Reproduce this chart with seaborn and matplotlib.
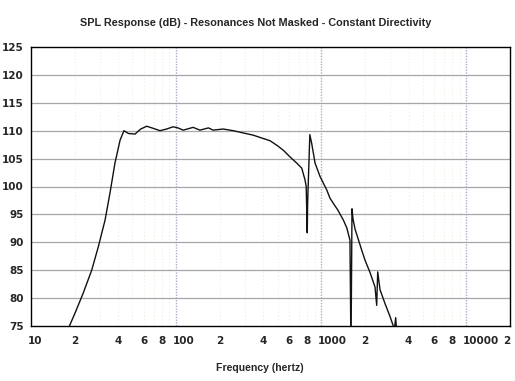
import matplotlib
matplotlib.use("Agg")
import matplotlib.pyplot as plt
from matplotlib.transforms import ScaledTranslation
import seaborn as sns
import pandas as pd

# frequency response (Hz, dB)
freq = [17.5, 18.4, 20.1, 22.9, 26.2, 29.1, 32.4, 35.0, 37.9, 41.1, 43.7, 46.9,
        52.1, 57.0, 62.7, 70.0, 77.4, 86.0, 95.2, 103, 112, 131, 146, 167, 180,
        211, 248, 290, 340, 399, 444, 500, 548, 610, 678, 734, 773, 788, 801,
        806, 835, 860, 907, 981, 1091, 1150, 1211, 1300, 1420, 1500, 1578, 1604,
        1630, 1656, 1709, 1901, 2004, 2169, 2348, 2412, 2451, 2543, 2754, 2980,
        3140, 3200, 3260, 3300, 3400]
spl = [74.0, 75.0, 77.3, 80.9, 85.0, 89.2, 94.0, 98.8, 104.2, 108.3, 110.0, 109.5,
       109.4, 110.3, 110.8, 110.4, 110.0, 110.3, 110.7, 110.5, 110.1, 110.6, 110.1,
       110.5, 110.1, 110.3, 110.0, 109.6, 109.2, 108.6, 108.2, 107.3, 106.5, 105.3,
       104.2, 103.3, 101.2, 100.0, 91.7, 97.0, 109.3, 107.7, 104.2, 101.8, 99.4,
       97.9, 97.0, 95.8, 94.0, 92.6, 90.4, 70.0, 96.0, 94.2, 92.4, 88.6, 86.8,
       84.6, 82.0, 78.7, 84.7, 81.5, 79.0, 76.7, 75.0, 74.6, 76.5, 74.5, 72.0]

y_ticks = [75, 80, 85, 90, 95, 100, 105, 110, 115, 120, 125]
x_ticks = [10, 20, 40, 60, 80, 100, 200, 400, 600, 800, 1000, 2000, 4000, 6000,
           8000, 10000, 20000]
x_tick_labels = ["10", "2", "4", "6", "8", "100", "2", "4", "6", "8", "1000",
                 "2", "4", "6", "8", "10000", "2"]
minor_x = [m * d for d in (10, 100, 1000) for m in range(2, 10)] + [20000]

df = pd.DataFrame({"freq": freq, "spl": spl})

sns.set_style("white")
fig = plt.figure(figsize=(5.15, 3.81), dpi=100)
ax = fig.add_axes([31 / 515, 55 / 381, 479 / 515, 279 / 381])

# grid
for f in minor_x:
    ax.axvline(f, color="#f0ede0", lw=0.8, ls=(0, (1, 2)), zorder=0)
for f in (100, 1000, 10000):
    ax.axvline(f, color="#b4a8c4", lw=1.0, ls=(0, (1, 1)), zorder=1)
for y in y_ticks[1:-1]:
    ax.axhline(y, color="#a8a4a8", lw=0.9, zorder=1)

sns.lineplot(data=df, x="freq", y="spl", ax=ax, color="#111111", lw=1.0,
             sort=False, estimator=None, zorder=3)

ax.set_xscale("log")
ax.set_xlim(10, 20000)
ax.set_ylim(75, 125)
ax.set_xticks(x_ticks)
ax.set_xticklabels(x_tick_labels)
ax.xaxis.set_minor_locator(matplotlib.ticker.NullLocator())
ax.set_yticks(y_ticks)
ax.set_yticklabels([str(v) for v in y_ticks])
ax.tick_params(length=0)
ax.tick_params(axis="x", pad=7)
ax.tick_params(axis="y", pad=5)
for lab in ax.get_xticklabels() + ax.get_yticklabels():
    lab.set_fontfamily("DejaVu Sans")
    lab.set_fontweight("bold")
    lab.set_fontsize(7.5)

# decade labels start at the tick (first digit centred on it), last one kept inside
xlabs = ax.get_xticklabels()
for lab, txt in zip(xlabs, x_tick_labels):
    if txt.startswith("1"):
        lab.set_horizontalalignment("left")
        lab.set_transform(lab.get_transform() +
                          ScaledTranslation(-0.035, 0, fig.dpi_scale_trans))
xlabs[-1].set_horizontalalignment("right")

ax.set_xlabel("")
ax.set_ylabel("")
for s in ax.spines.values():
    s.set_color("black")
    s.set_linewidth(1.0)

fig.text(256 / 515, 1 - 23.5 / 381,
         "SPL Response (dB) - Resonances Not Masked - Constant Directivity",
         ha="center", va="center", fontsize=7.8, fontweight="bold",
         family="Liberation Sans")
fig.text(260 / 515, 1 - 368 / 381, "Frequency (hertz)",
         ha="center", va="center", fontsize=7.6, fontweight="bold",
         family="Liberation Sans")

fig.savefig("out.png", dpi=100)
